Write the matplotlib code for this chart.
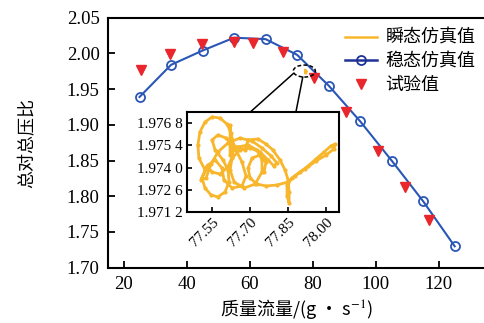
import matplotlib
matplotlib.use("Agg")
import matplotlib.pyplot as plt
from matplotlib.lines import Line2D
from matplotlib.patches import Ellipse, ConnectionPatch
from matplotlib.ticker import FixedLocator, FixedFormatter

# Steady-state simulation (total-to-total pressure ratio vs. mass flow)
steady_flow = [25, 35, 45, 55, 65, 75, 85, 95, 105, 115, 125]
steady_ratio = [1.939, 1.984, 2.004, 2.022, 2.020, 1.998, 1.955, 1.905, 1.850, 1.793, 1.730]

# Test measurements
test_flow = [25.6, 34.6, 44.7, 55.0, 61.0, 70.5, 80.4, 90.5, 100.6, 109.2, 116.8]
test_ratio = [1.977, 1.999, 2.013, 2.016, 2.015, 2.002, 1.966, 1.918, 1.863, 1.813, 1.767]

# Transient simulation trajectory around the 77.7 g/s operating point
trans_flow = [
    77.521, 77.497, 77.493, 77.501, 77.521, 77.549, 77.580, 77.608, 77.624, 77.632,
    77.628, 77.612, 77.580, 77.549, 77.529, 77.505, 77.525, 77.545, 77.572, 77.612,
    77.659, 77.707, 77.746, 77.782, 77.805, 77.793, 77.770, 77.738, 77.699, 77.659,
    77.628, 77.620, 77.636, 77.675, 77.719, 77.746, 77.746, 77.726, 77.691, 77.651,
    77.620, 77.620, 77.620, 77.624, 77.643, 77.667, 77.683, 77.667, 77.628, 77.596,
    77.588, 77.561, 77.533, 77.509, 77.521, 77.545, 77.572, 77.600, 77.616, 77.612,
    77.592, 77.561, 77.549, 77.572, 77.604, 77.628, 77.679, 77.691, 77.730, 77.762,
    77.789, 77.817, 77.837, 77.849, 77.853, 77.853, 77.845, 77.845, 77.864, 77.896,
    77.928, 77.959, 77.991, 78.018, 78.034, 78.030, 77.999, 77.959, 77.916, 77.876,
    77.849, 77.805, 77.762, 77.726, 77.699, 77.691, 77.707, 77.738, 77.762, 77.754,
]
trans_ratio = [
    1.97385, 1.97460, 1.97542, 1.97624, 1.97687, 1.97719, 1.97712, 1.97674, 1.97618, 1.97542,
    1.97467, 1.97404, 1.97359, 1.97372, 1.97410, 1.97322, 1.97334, 1.97422, 1.97498, 1.97555,
    1.97586, 1.97567, 1.97523, 1.97473, 1.97429, 1.97410, 1.97448, 1.97498, 1.97523, 1.97511,
    1.97460, 1.97385, 1.97309, 1.97271, 1.97296, 1.97372, 1.97448, 1.97511, 1.97542, 1.97530,
    1.97479, 1.97574, 1.97668, 1.97586, 1.97511, 1.97435, 1.97347, 1.97284, 1.97271, 1.97322,
    1.97397, 1.97448, 1.97416, 1.97334, 1.97271, 1.97227, 1.97215, 1.97246, 1.97309, 1.97385,
    1.97448, 1.97511, 1.97574, 1.97605, 1.97586, 1.97542, 1.97511, 1.97574, 1.97580, 1.97548,
    1.97511, 1.97448, 1.97385, 1.97322, 1.97246, 1.97177, 1.97221, 1.97290, 1.97334, 1.97372,
    1.97410, 1.97454, 1.97498, 1.97536, 1.97548, 1.97517, 1.97479, 1.97441, 1.97391, 1.97347,
    1.97309, 1.97290, 1.97284, 1.97296, 1.97334, 1.97397, 1.97460, 1.97479, 1.97435, 1.97372,
]

x_ticks = [20, 40, 60, 80, 100, 120]
y_ticks = [1.70, 1.75, 1.80, 1.85, 1.90, 1.95, 2.00, 2.05]
inset_x_ticks = [77.55, 77.70, 77.85, 78.00]
inset_y_ticks = [1.9712, 1.9726, 1.9740, 1.9754, 1.9768]
inset_y_labels = ["1.971 2", "1.972 6", "1.974 0", "1.975 4", "1.976 8"]

legend_labels = ["瞬态仿真值", "稳态仿真值", "试验值"]
x_label = "质量流量/(g · s$^{-1}$)"
y_label = "总对总压比"

ORANGE = "#F8B62D"
BLUE = "#2A56B6"
RED = "#E8262B"
SERIF = ["Liberation Serif", "DejaVu Serif"]
CJK = ["Noto Sans CJK SC", "DejaVu Sans"]

plt.rcParams["mathtext.fontset"] = "stix"

fig = plt.figure(figsize=(4.84, 3.23), dpi=100)
ax = fig.add_axes([108 / 484, 1 - 267.7 / 323, 376 / 484, 250 / 323])

ax.plot(steady_flow, steady_ratio, color=BLUE, lw=1.5, marker="o", ms=6.5,
        mfc="none", mec=BLUE, mew=1.3, zorder=3)
ax.plot(test_flow, test_ratio, linestyle="none", marker="v", ms=6.5,
        color=RED, mec=RED, zorder=4)
ax.plot(trans_flow, trans_ratio, color=ORANGE, lw=1.5, zorder=5)

ax.add_patch(Ellipse((77.3, 1.9753), 7.0, 0.0168, fill=False, ec="black",
                     ls=(0, (2.5, 1.5)), lw=1.1, zorder=6))

ax.set_xlim(15, 134.3)
ax.set_ylim(1.70, 2.05)
ax.xaxis.set_major_locator(FixedLocator(x_ticks))
ax.yaxis.set_major_locator(FixedLocator(y_ticks))
ax.yaxis.set_major_formatter(FixedFormatter([f"{v:.2f}" for v in y_ticks]))
ax.tick_params(direction="in", length=5, width=1.3, labelsize=13.5, pad=6)
for lab in ax.get_xticklabels() + ax.get_yticklabels():
    lab.set_fontfamily(SERIF)
ax.spines["right"].set_visible(False)
for s in ("top", "left", "bottom"):
    ax.spines[s].set_linewidth(1.5)

ax.set_xlabel(x_label, fontsize=13, family=CJK, labelpad=3)
ax.set_ylabel(y_label, fontsize=13, family=CJK, labelpad=22)

handles = [
    Line2D([], [], color=ORANGE, lw=1.8),
    Line2D([], [], color="#1F3196", lw=1.8, marker="o", ms=6.5, mfc="none", mew=1.3),
    Line2D([], [], color=RED, linestyle="none", marker="v", ms=6.5),
]
fig.legend(handles, legend_labels, loc="upper left",
           bbox_to_anchor=(345 / 484, 1 - 29 / 323), frameon=False,
           prop={"family": CJK, "size": 13}, handlelength=1.75,
           handletextpad=0.5, labelspacing=0.3, borderpad=0, borderaxespad=0)

# Zoomed view of the transient trajectory
ins = fig.add_axes([187 / 484, 1 - 212 / 323, 152 / 484, 100 / 323])
ins.plot(trans_flow, trans_ratio, color=ORANGE, lw=2.0, marker="o", ms=2.0,
         mec=ORANGE, mfc=ORANGE)
ins.set_xlim(77.45, 78.05)
ins.set_ylim(1.9712, 1.9775)
ins.xaxis.set_major_locator(FixedLocator(inset_x_ticks))
ins.xaxis.set_major_formatter(FixedFormatter([f"{v:.2f}" for v in inset_x_ticks]))
ins.yaxis.set_major_locator(FixedLocator(inset_y_ticks))
ins.yaxis.set_major_formatter(FixedFormatter(inset_y_labels))
ins.tick_params(direction="in", length=3.5, width=1.2, labelsize=11, pad=3)
for lab in ins.get_xticklabels():
    lab.set_fontfamily(SERIF)
    lab.set_rotation(45)
    lab.set_ha("right")
    lab.set_va("top")
    lab.set_rotation_mode("anchor")
for lab in ins.get_yticklabels():
    lab.set_fontfamily(SERIF)
for s in ins.spines.values():
    s.set_linewidth(1.5)

for xa, xb in [((73.9, 1.9722), (77.70, 1.9775)), ((76.8, 1.9670), (77.88, 1.9775))]:
    con = ConnectionPatch(xyA=xa, coordsA=ax.transData, xyB=xb, coordsB=ins.transData,
                          color="black", lw=1.1)
    fig.add_artist(con)

fig.savefig("out.png", dpi=100)
